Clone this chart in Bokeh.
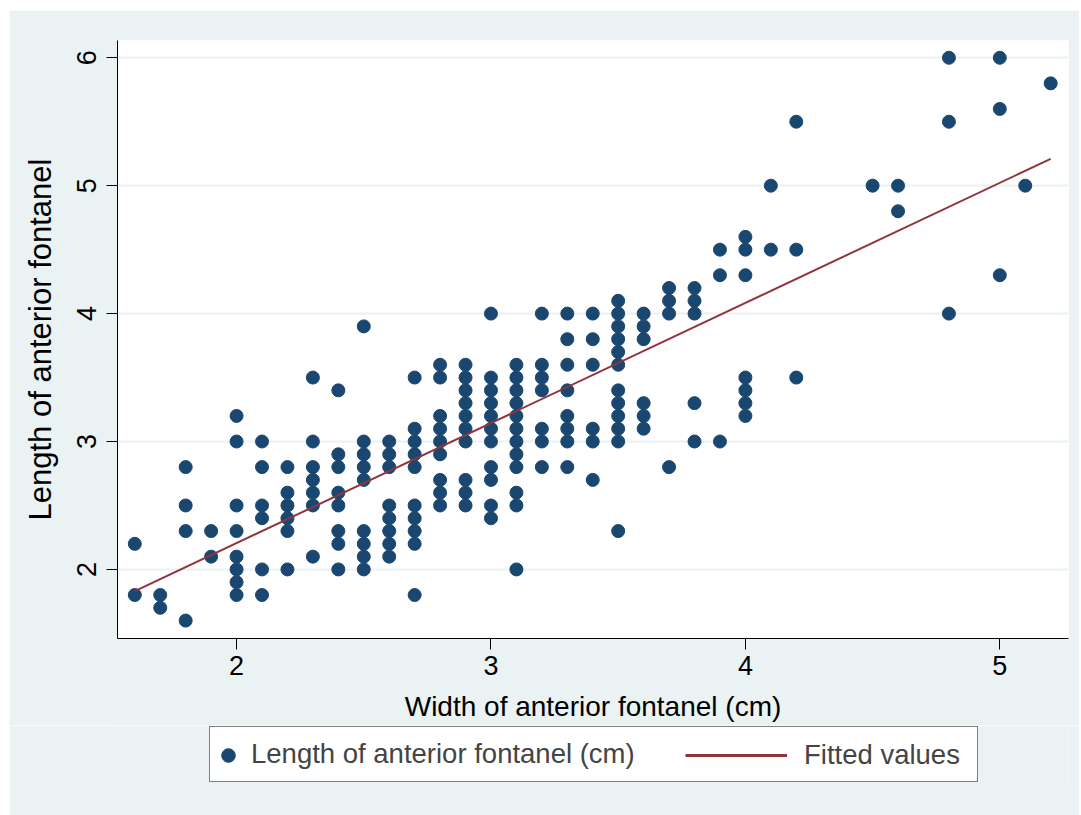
from bokeh.plotting import figure
from bokeh.models import Legend, LegendItem, Range1d, FixedTicker
from bokeh.layouts import column
from bokeh.embed import file_html
from bokeh.resources import INLINE

# Width of anterior fontanel (cm) -> observed lengths (cm), read column by column
width_cm = (
    [1.6] * 2 + [1.7] * 2 + [1.8] * 4 + [1.9] * 2 + [2.0] * 8 + [2.1] * 6 +
    [2.2] * 6 + [2.3] * 7 + [2.4] * 8 + [2.5] * 9 + [2.6] * 8 + [2.7] * 10 +
    [2.8] * 9 + [2.9] * 10 + [3.0] * 11 + [3.1] * 12 + [3.2] * 7 + [3.3] * 8 +
    [3.4] * 6 + [3.5] * 12 + [3.6] * 6 + [3.7] * 4 + [3.8] * 5 + [3.9] * 3 +
    [4.0] * 7 + [4.1] * 2 + [4.2] * 3 + [4.5] * 1 + [4.6] * 2 + [4.8] * 3 +
    [5.0] * 3 + [5.1] * 1 + [5.2] * 1
)
length_cm = [
    2.2, 1.8,
    1.8, 1.7,
    2.8, 2.5, 2.3, 1.6,
    2.3, 2.1,
    3.2, 3.0, 2.5, 2.3, 2.1, 2.0, 1.9, 1.8,
    3.0, 2.8, 2.5, 2.4, 2.0, 1.8,
    2.8, 2.6, 2.5, 2.4, 2.3, 2.0,
    3.5, 3.0, 2.8, 2.7, 2.6, 2.5, 2.1,
    3.4, 2.9, 2.8, 2.6, 2.5, 2.3, 2.2, 2.0,
    3.9, 3.0, 2.9, 2.8, 2.7, 2.3, 2.2, 2.1, 2.0,
    3.0, 2.9, 2.8, 2.5, 2.4, 2.3, 2.2, 2.1,
    3.5, 3.1, 3.0, 2.9, 2.8, 2.5, 2.4, 2.3, 2.2, 1.8,
    3.6, 3.5, 3.2, 3.1, 3.0, 2.9, 2.7, 2.6, 2.5,
    3.6, 3.5, 3.4, 3.3, 3.2, 3.1, 3.0, 2.7, 2.6, 2.5,
    4.0, 3.5, 3.4, 3.3, 3.2, 3.1, 3.0, 2.8, 2.7, 2.5, 2.4,
    3.6, 3.5, 3.4, 3.3, 3.2, 3.1, 3.0, 2.9, 2.8, 2.6, 2.5, 2.0,
    4.0, 3.6, 3.5, 3.4, 3.1, 3.0, 2.8,
    4.0, 3.8, 3.6, 3.4, 3.2, 3.1, 3.0, 2.8,
    4.0, 3.8, 3.6, 3.1, 3.0, 2.7,
    4.1, 4.0, 3.9, 3.8, 3.7, 3.6, 3.4, 3.3, 3.2, 3.1, 3.0, 2.3,
    4.0, 3.9, 3.8, 3.3, 3.2, 3.1,
    4.2, 4.1, 4.0, 2.8,
    4.2, 4.1, 4.0, 3.3, 3.0,
    4.5, 4.3, 3.0,
    4.6, 4.5, 4.3, 3.5, 3.4, 3.3, 3.2,
    5.0, 4.5,
    5.5, 4.5, 3.5,
    5.0,
    5.0, 4.8,
    6.0, 5.5, 4.0,
    6.0, 5.6, 4.3,
    5.0,
    5.8,
]

# Fitted values (linear fit) at the ends of the observed width range
fit_x = [1.6, 5.2]
fit_y = [1.83, 5.21]

x_ticks = [2, 3, 4, 5]
y_ticks = [2, 3, 4, 5, 6]

BG = "#EAF2F3"
NAVY = "#1A476F"
MAROON = "#90353B"
FONT = "Liberation Sans"

W = 1070
BL, BR = 108, 11   # left / right borders shared by both stacked figures

p = figure(
    width=W, height=715,
    output_backend="svg", toolbar_location=None,
    x_range=Range1d(1.532, 5.27), y_range=Range1d(1.46, 6.135),
    min_border_left=BL, min_border_right=BR,
    min_border_top=30, min_border_bottom=87,
)
p.background_fill_color = "white"
p.border_fill_color = BG
p.outline_line_color = None

sc = p.scatter(width_cm, length_cm, size=13, marker="circle",
               fill_color=NAVY, line_color=NAVY)
ln = p.line(fit_x, fit_y, line_color=MAROON, line_width=2)

p.xgrid.visible = False
p.ygrid.grid_line_color = BG
p.ygrid.grid_line_width = 2
p.ygrid.ticker = FixedTicker(ticks=y_ticks)

for ax in (p.xaxis[0], p.yaxis[0]):
    ax.axis_line_color = "black"
    ax.axis_line_width = 1
    ax.major_tick_line_color = "black"
    ax.major_tick_out = 11
    ax.major_tick_in = 0
    ax.minor_tick_line_color = None
    ax.major_label_text_font = FONT
    ax.major_label_text_font_size = "27px"
    ax.major_label_text_color = "black"
    ax.axis_label_text_font = FONT
    ax.axis_label_text_font_style = "normal"
    ax.axis_label_text_color = "black"

p.xaxis.ticker = FixedTicker(ticks=x_ticks)
p.yaxis.ticker = FixedTicker(ticks=y_ticks)
p.xaxis.axis_label = "Width of anterior fontanel (cm)"
p.yaxis.axis_label = "Length of anterior fontanel"
p.xaxis.axis_label_text_font_size = "28px"
p.yaxis.axis_label_text_font_size = "31px"
p.yaxis.major_label_orientation = "vertical"
p.xaxis.major_label_standoff = 6
p.yaxis.major_label_standoff = 10
p.xaxis.axis_label_standoff = 13
p.yaxis.axis_label_standoff = 17

# Legend strip below the plot (key renderers use the same data, kept out of view)
lg = figure(
    width=W, height=90,
    output_backend="svg", toolbar_location=None,
    x_range=Range1d(0, 1), y_range=Range1d(0, 1),
    x_axis_type=None, y_axis_type=None,
    min_border_left=BL, min_border_right=BR,
    min_border_top=1, min_border_bottom=29,
)
lg.background_fill_color = BG
lg.border_fill_color = BG
lg.outline_line_color = None
key_hidden = lg.scatter(width_cm, length_cm, size=13, alpha=0.0)
key_sc = lg.scatter(width_cm, length_cm, size=13, marker="circle",
                    fill_color=NAVY, line_color=NAVY)
key_ln = lg.line(fit_x, fit_y, line_color=MAROON, line_width=3)

leg_box = Legend(
    items=[LegendItem(label="Length of anterior fontanel (cm)", renderers=[key_hidden])],
    location=(92, 4), orientation="horizontal",
    padding=11, margin=0, glyph_width=16, glyph_height=20,
    label_standoff=14, label_width=715,
    label_text_font=FONT, label_text_font_size="27.5px",
    border_line_color="black", border_line_width=1,
    background_fill_color="white", background_fill_alpha=1.0,
)
leg_dot = Legend(
    items=[LegendItem(label=" ", renderers=[key_sc])],
    location=(94, 14), orientation="horizontal",
    padding=0, margin=0, glyph_width=34, glyph_height=34,
    label_standoff=0, label_width=0,
    label_text_font_size="1px",
    border_line_color=None, background_fill_alpha=0.0,
)
leg_b = Legend(
    items=[LegendItem(label="Fitted values", renderers=[key_ln])],
    location=(557, 4), orientation="horizontal",
    padding=11, margin=0, glyph_width=102, glyph_height=20,
    label_standoff=17,
    label_text_font=FONT, label_text_font_size="27.5px",
    border_line_color="white", border_line_alpha=0.0,
    background_fill_alpha=0.0,
)
lg.add_layout(leg_box, "center")
lg.add_layout(leg_dot, "center")
lg.add_layout(leg_b, "center")

page = column(p, lg, spacing=0)
page.styles = {"margin-left": "9px", "margin-top": "10px"}

open("out.html", "w").write(file_html(page, INLINE))
